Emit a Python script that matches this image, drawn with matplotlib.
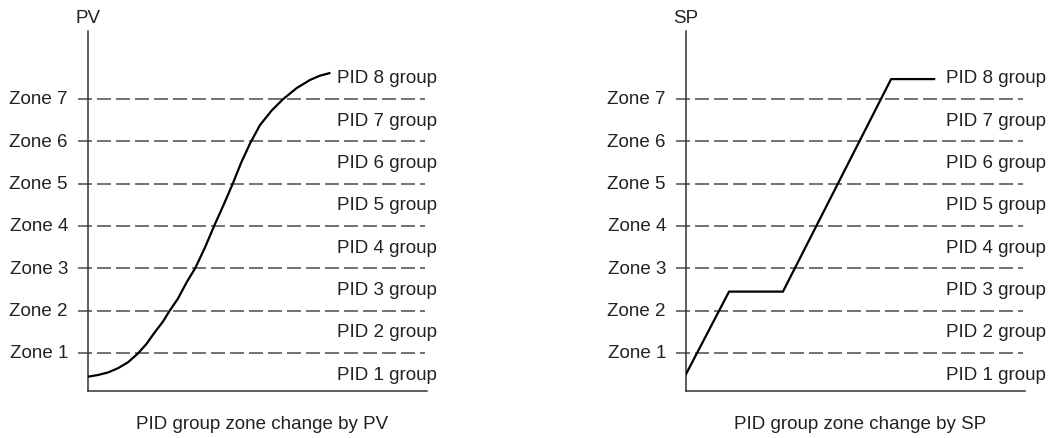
import matplotlib
matplotlib.use("Agg")
import matplotlib.pyplot as plt

plt.rcParams['font.family'] = ['Liberation Sans', 'DejaVu Sans']

zones = [1, 2, 3, 4, 5, 6, 7]
zone_labels = ["Zone 1", "Zone 2", "Zone 3", "Zone 4", "Zone 5", "Zone 6", "Zone 7"]
group_labels = ["PID 1 group", "PID 2 group", "PID 3 group", "PID 4 group",
                "PID 5 group", "PID 6 group", "PID 7 group", "PID 8 group"]
group_levels = [0.5, 1.5, 2.5, 3.5, 4.5, 5.5, 6.5, 7.5]

pv_x = [0, 2.95, 5.9, 8.85, 11.8, 14.75, 17.2, 19.7, 22.1, 24.1, 26.5, 29.1,
        31.6, 34.5, 37.2, 39.9, 42.7, 45.1, 47.8, 50.7, 54.2, 57.6, 61.6,
        65.5, 68.4, 71.2]
pv_y = [0.44, 0.48, 0.54, 0.64, 0.78, 0.99, 1.21, 1.49, 1.74, 2.0, 2.28, 2.67,
        3.0, 3.49, 4.0, 4.48, 5.0, 5.48, 5.95, 6.38, 6.73, 7.0, 7.26,
        7.45, 7.55, 7.61]

sp_x = [0, 12.7, 28.6, 60.5, 73.2]
sp_y = [0.5, 2.45, 2.45, 7.47, 7.47]

W, H = 1049, 439
fig = plt.figure(figsize=(W / 100, H / 100), dpi=100)

FS = 13.5
dash_col = "#5a5a5a"
text_col = "#222222"


def panel(left_px, xs, ys, axis_label, title, group_x):
    ax = fig.add_axes([left_px / W, 47 / H, 339 / W, 360 / H])
    ax.set_xlim(0, 100)
    ax.set_ylim(0.102, 8.606)
    for s in ["top", "right"]:
        ax.spines[s].set_visible(False)
    for s in ["left", "bottom"]:
        ax.spines[s].set_color("#333333")
        ax.spines[s].set_linewidth(1.1)
    ax.set_xticks([])
    ax.set_yticks([])
    for z, lab in zip(zones, zone_labels):
        ax.plot([-2.9, 99.3], [z, z], color=dash_col, lw=1.2,
                dashes=(8.4, 3.0), clip_on=False, zorder=1)
        ax.text(-5.9, z, lab, ha="right", va="center", fontsize=FS,
                color=text_col, clip_on=False)
    for g, lab in zip(group_levels, group_labels):
        ax.text(group_x, g, lab, ha="left", va="center", fontsize=FS,
                color=text_col, clip_on=False)
    ax.plot(xs, ys, color="black", lw=1.6, zorder=3, solid_joinstyle="round")
    ax.text(0, 8.93, axis_label, ha="center", va="center", fontsize=FS,
            color=text_col, clip_on=False)
    ax.text(0.513, -0.09, title, transform=ax.transAxes, ha="center",
            va="center", fontsize=FS, color=text_col, clip_on=False)
    return ax


panel(88, pv_x, pv_y, "PV", "PID group zone change by PV", 73.45)
panel(686, sp_x, sp_y, "SP", "PID group zone change by SP", 76.7)

fig.savefig("out.png", dpi=100)
